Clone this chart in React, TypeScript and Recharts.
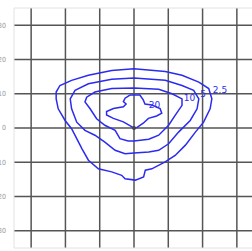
import { ScatterChart, Scatter, XAxis, YAxis, CartesianGrid, ReferenceLine } from 'recharts';

// contour levels (x/y in chart units, closed loops)
const contour25 = [
  { x: 0, y: 17.3 }, { x: 9.1, y: 16.5 }, { x: 14.0, y: 15.4 }, { x: 18.9, y: 13.4 },
  { x: 21.8, y: 11.5 }, { x: 22.7, y: 8.5 }, { x: 22.2, y: 5.6 }, { x: 20.3, y: 1.7 },
  { x: 17.9, y: -1.2 }, { x: 15.0, y: -5.0 }, { x: 12.0, y: -8.0 }, { x: 9.1, y: -9.9 },
  { x: 5.2, y: -11.9 }, { x: 3.3, y: -12.3 }, { x: 2.8, y: -14.3 }, { x: 0.4, y: -15.2 },
  { x: -2.6, y: -14.8 }, { x: -3.6, y: -13.8 }, { x: -6.5, y: -12.8 }, { x: -10.4, y: -11.9 },
  { x: -13.3, y: -9.4 }, { x: -15.2, y: -6.0 }, { x: -16.7, y: -3.1 }, { x: -18.2, y: -0.2 },
  { x: -20.1, y: 2.2 }, { x: -22.1, y: 5.6 }, { x: -22.7, y: 8.5 }, { x: -22.7, y: 10.5 },
  { x: -21.6, y: 12.4 }, { x: -18.2, y: 13.9 }, { x: -13.3, y: 15.4 }, { x: -6.5, y: 16.8 },
  { x: 0, y: 17.3 },
];

const contour5 = [
  { x: 0, y: 14.6 }, { x: 9.1, y: 13.9 }, { x: 14.0, y: 12.4 }, { x: 17.4, y: 11.0 },
  { x: 18.9, y: 8.5 }, { x: 18.4, y: 5.6 }, { x: 16.4, y: 2.2 }, { x: 13.0, y: -1.2 },
  { x: 10.1, y: -4.6 }, { x: 7.2, y: -6.5 }, { x: 4.3, y: -7.0 }, { x: 0, y: -7.3 },
  { x: -2.6, y: -7.5 }, { x: -5.5, y: -6.5 }, { x: -8.5, y: -4.1 }, { x: -11.4, y: -2.1 },
  { x: -14.3, y: -0.7 }, { x: -16.7, y: 1.7 }, { x: -18.2, y: 5.6 }, { x: -18.6, y: 8.5 },
  { x: -17.2, y: 11.0 }, { x: -13.3, y: 12.9 }, { x: -6.5, y: 14.2 }, { x: 0, y: 14.6 },
];

const contour10 = [
  { x: 0, y: 11.7 }, { x: 7.2, y: 11.3 }, { x: 11.1, y: 10.0 }, { x: 14.0, y: 8.5 },
  { x: 14.0, y: 6.6 }, { x: 12.0, y: 3.7 }, { x: 10.1, y: 0.8 }, { x: 7.2, y: -2.1 },
  { x: 4.3, y: -3.3 }, { x: 0, y: -3.8 }, { x: -1.7, y: -3.8 }, { x: -4.1, y: -3.1 },
  { x: -5.5, y: -0.7 }, { x: -8.5, y: 0.8 }, { x: -10.9, y: 2.7 }, { x: -12.8, y: 5.6 },
  { x: -14.3, y: 7.6 }, { x: -13.8, y: 9.0 }, { x: -11.4, y: 10.5 }, { x: -6.5, y: 11.5 },
  { x: 0, y: 11.7 },
];

const contour20 = [
  { x: -1.2, y: 9.6 }, { x: 1.7, y: 9.6 }, { x: 2.7, y: 8.2 }, { x: 3.2, y: 7.0 },
  { x: 5.2, y: 6.7 }, { x: 7.6, y: 5.7 }, { x: 8.1, y: 4.3 }, { x: 6.6, y: 3.5 },
  { x: 4.2, y: 2.8 }, { x: 2.7, y: 1.4 }, { x: 0.8, y: 0.1 }, { x: 0, y: -0.1 },
  { x: -0.7, y: 0.4 }, { x: -3.1, y: 1.8 }, { x: -6.0, y: 2.8 }, { x: -8.0, y: 3.8 },
  { x: -8.0, y: 4.8 }, { x: -6.0, y: 5.7 }, { x: -3.1, y: 6.2 }, { x: -2.3, y: 7.0 },
  { x: -3.1, y: 7.7 }, { x: -2.6, y: 8.7 }, { x: -1.2, y: 9.6 },
];

const levelLabels = [
  { x: 23.0, y: 10.8, text: '2.5' },
  { x: 19.3, y: 9.8, text: '5' },
  { x: 14.5, y: 8.7, text: '10' },
  { x: 4.3, y: 6.6, text: '20' },
];

const origin = [{ x: 0, y: 0 }];

const axisTicks = [-30, -20, -10, 0, 10, 20, 30];

const BLUE = '#2b2bf0';

const noDot = () => <g />;

const LevelLabel = (props: any) => {
  const { cx, cy, payload } = props;
  return (
    <text x={cx} y={cy} fill={BLUE} fontSize={9} fontFamily="DejaVu Sans, sans-serif" dominantBaseline="middle">
      {payload.text}
    </text>
  );
};

export default function App() {
  const tick = { fontSize: 7, fill: '#999', fontFamily: 'DejaVu Sans Condensed, DejaVu Sans, sans-serif' };
  const contours = [contour25, contour5, contour10, contour20];
  return (
    <div style={{ position: 'absolute', left: 0, top: 0, background: '#fff' }}>
      <ScatterChart width={260} height={263} margin={{ top: 8, right: 6, bottom: 0, left: 0 }}>
        <CartesianGrid stroke="#555" strokeWidth={1.5} horizontalValues={axisTicks} verticalValues={axisTicks} />
        <XAxis
          type="number" dataKey="x" domain={[-35, 35]} ticks={axisTicks} allowDataOverflow
          tick={tick} tickLine={false} axisLine={{ stroke: '#e2e2e2' }} tickMargin={2} height={15}
          tickFormatter={(v) => String(Math.abs(v))}
        />
        <YAxis
          type="number" dataKey="y" domain={[-35, 35]} ticks={axisTicks} allowDataOverflow
          tick={tick} tickLine={false} axisLine={{ stroke: '#e2e2e2' }} tickMargin={2} width={14}
          tickFormatter={(v) => String(Math.abs(v))}
        />
        <ReferenceLine y={35} stroke="#e2e2e2" />
        {contours.map((c, i) => (
          <Scatter key={i} data={c} line={{ stroke: BLUE, strokeWidth: 1.5 }} shape={noDot} isAnimationActive={false} />
        ))}
        <Scatter data={origin} fill="#444" shape={(p: any) => <circle cx={p.cx} cy={p.cy} r={2} fill="#444" />} isAnimationActive={false} />
        <Scatter data={levelLabels} shape={LevelLabel} isAnimationActive={false} />
      </ScatterChart>
    </div>
  );
}
